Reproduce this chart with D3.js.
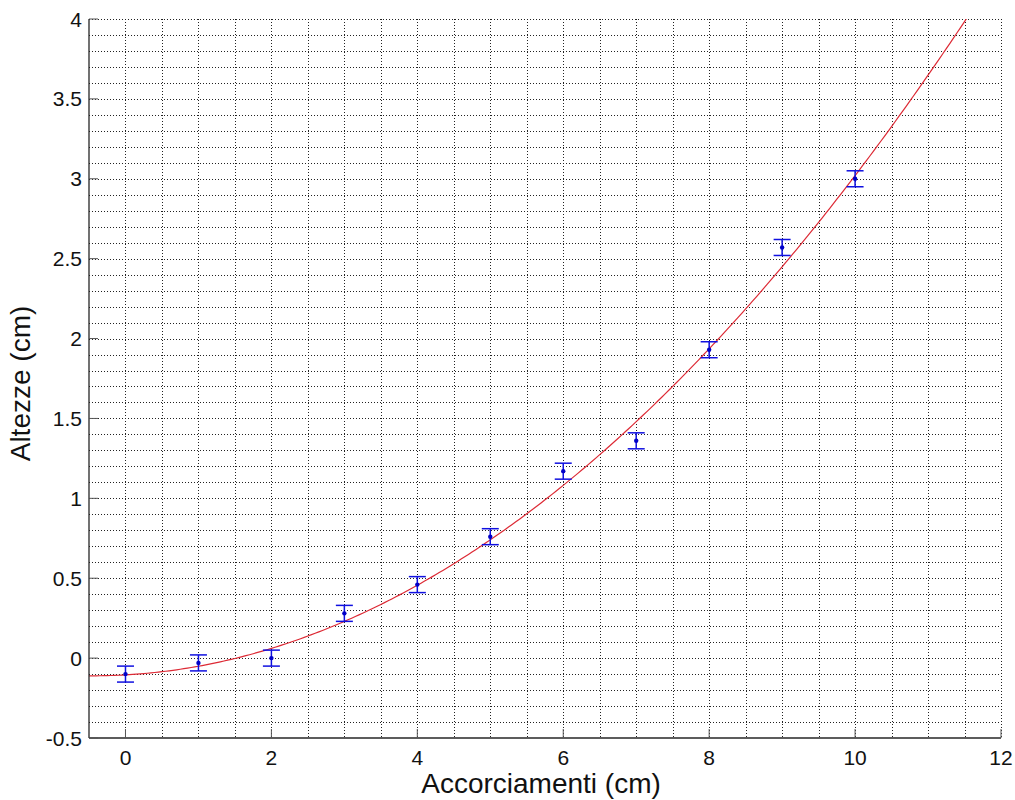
<!doctype html>
<html>
  <head>
    <script src="https://cdnjs.cloudflare.com/ajax/libs/d3/7.8.5/d3.min.js"></script>
    <style>
      body { margin: 0; background: #fff; }
      svg { display: block; font-family: "Liberation Sans", Arial, sans-serif; }
      line.grid { stroke: #222; stroke-width: 1; stroke-dasharray: 1 2; }
      path.fit { fill: none; stroke: #dd2a35; stroke-width: 1.2; }
      line.err { stroke: #1010e0; stroke-width: 1.5; }
      circle.pt { fill: #0000c8; }
      .axisline { stroke: #262626; stroke-width: 1.3; }
      .tick { stroke: #555; stroke-width: 1; }
      text.ticklab { font-size: 21px; fill: #111; }
      text.axlab { font-size: 28px; fill: #111; }
    </style>
  </head>
  <body>
    <svg width="1015" height="800"></svg>
    <script>
      // measured points (cm)
      var accorciamenti = [0, 1, 2, 3, 4, 5, 6, 7, 8, 9, 10];
      var altezze = [-0.10, -0.03, 0.00, 0.28, 0.46, 0.76, 1.17, 1.36, 1.93, 2.57, 3.00];
      var errori = [0.05, 0.05, 0.05, 0.05, 0.05, 0.05, 0.05, 0.05, 0.05, 0.05, 0.05];

      // quadratic fit y = c0 + c1*x + c2*x^2
      var fitCoef = [-0.105, 0.0255, 0.0287];

      var xTicks = [0, 2, 4, 6, 8, 10, 12];
      var yTicks = [-0.5, 0, 0.5, 1, 1.5, 2, 2.5, 3, 3.5, 4];

      var svg = d3.select("svg");
      var pLeft = 89, pRight = 1001, pTop = 19, pBottom = 738;

      var x = d3.scaleLinear().domain([-0.5, 12]).range([pLeft, pRight]);
      var y = d3.scaleLinear().domain([-0.5, 4]).range([pBottom, pTop]);

      // grid: vertical every 0.5, horizontal every 0.1
      var vGrid = d3.range(1, 26).map(i => -0.5 + i * 0.5);
      var hGrid = d3.range(1, 46).map(i => -0.5 + i * 0.1);

      svg.append("g").selectAll("line").data(vGrid).enter().append("line")
        .attr("class", "grid")
        .attr("x1", d => Math.round(x(d)) + 0.5).attr("x2", d => Math.round(x(d)) + 0.5)
        .attr("y1", pTop).attr("y2", pBottom);

      svg.append("g").selectAll("line").data(hGrid).enter().append("line")
        .attr("class", "grid")
        .attr("y1", d => Math.round(y(d)) + 0.5).attr("y2", d => Math.round(y(d)) + 0.5)
        .attr("x1", pLeft).attr("x2", pRight);

      // fit curve
      var fitFn = t => fitCoef[0] + fitCoef[1] * t + fitCoef[2] * t * t;
      var fitX = d3.range(-0.5, 12.001, 0.05);
      svg.append("clipPath").attr("id", "clip").append("rect")
        .attr("x", pLeft).attr("y", pTop).attr("width", pRight - pLeft).attr("height", pBottom - pTop);
      svg.append("path")
        .datum(fitX)
        .attr("class", "fit")
        .attr("clip-path", "url(#clip)")
        .attr("d", d3.line().x(d => x(d)).y(d => y(fitFn(d))));

      // error bars
      var pts = accorciamenti.map((v, i) => ({x: v, y: altezze[i], e: errori[i]}));
      var eb = svg.append("g").selectAll("g").data(pts).enter().append("g");
      eb.append("line").attr("class", "err")
        .attr("x1", d => x(d.x)).attr("x2", d => x(d.x))
        .attr("y1", d => y(d.y - d.e)).attr("y2", d => y(d.y + d.e));
      eb.append("line").attr("class", "err")
        .attr("x1", d => x(d.x) - 8.5).attr("x2", d => x(d.x) + 8.5)
        .attr("y1", d => y(d.y + d.e)).attr("y2", d => y(d.y + d.e));
      eb.append("line").attr("class", "err")
        .attr("x1", d => x(d.x) - 8.5).attr("x2", d => x(d.x) + 8.5)
        .attr("y1", d => y(d.y - d.e)).attr("y2", d => y(d.y - d.e));
      eb.append("circle").attr("class", "pt")
        .attr("cx", d => x(d.x)).attr("cy", d => y(d.y)).attr("r", 2.2);

      // axes lines + inward ticks
      svg.append("line").attr("class", "axisline")
        .attr("x1", pLeft).attr("x2", pLeft).attr("y1", pTop).attr("y2", pBottom);
      svg.append("line").attr("class", "axisline")
        .attr("x1", pLeft).attr("x2", pRight).attr("y1", pBottom).attr("y2", pBottom);

      svg.append("g").selectAll("line").data(xTicks).enter().append("line")
        .attr("class", "tick")
        .attr("x1", d => x(d)).attr("x2", d => x(d))
        .attr("y1", pBottom).attr("y2", pBottom - 9);
      svg.append("g").selectAll("line").data(yTicks).enter().append("line")
        .attr("class", "tick")
        .attr("y1", d => y(d)).attr("y2", d => y(d))
        .attr("x1", pLeft).attr("x2", pLeft + 9);

      svg.append("g").selectAll("text").data(xTicks).enter().append("text")
        .attr("class", "ticklab")
        .attr("x", d => x(d)).attr("y", 765)
        .attr("text-anchor", "middle")
        .text(d => String(d));
      svg.append("g").selectAll("text").data(yTicks).enter().append("text")
        .attr("class", "ticklab")
        .attr("x", 82).attr("y", d => y(d) + 7.5)
        .attr("text-anchor", "end")
        .text(d => String(d));

      svg.append("text").attr("class", "axlab")
        .attr("x", (pLeft + pRight) / 2 - 4).attr("y", 793)
        .attr("text-anchor", "middle")
        .text("Accorciamenti (cm)");
      svg.append("text").attr("class", "axlab")
        .attr("transform", "translate(30," + ((pTop + pBottom) / 2 + 5) + ") rotate(-90)")
        .attr("text-anchor", "middle")
        .text("Altezze (cm)");
    </script>
  </body>
</html>
